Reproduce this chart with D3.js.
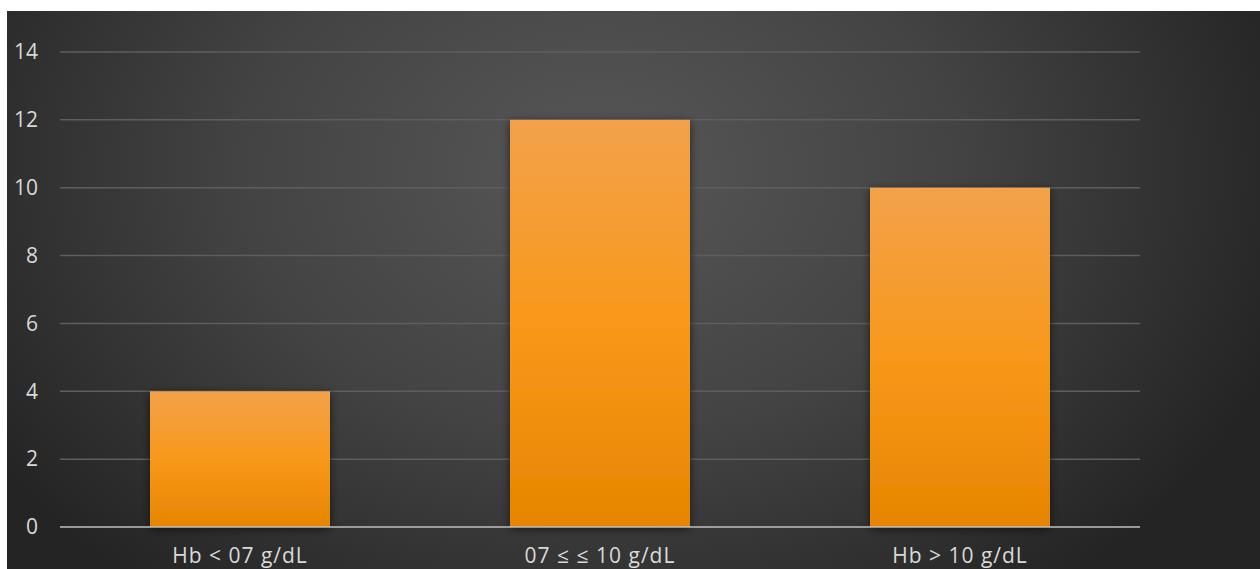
<!DOCTYPE html>
<html>
<head>
<meta charset="utf-8">
<script src="https://cdn.jsdelivr.net/npm/d3@7"></script>
<style>
  html, body { margin: 0; padding: 0; background: #ffffff; }
  svg { display: block; }
</style>
</head>
<body>
<svg id="chart" width="1260" height="569"></svg>
<script>
// Haemoglobin groups and counts
const categories = ["Hb < 07 g/dL", "07 \u2264 \u2264 10 g/dL", "Hb > 10 g/dL"];
const counts = [4, 12, 10];
const yTicks = [0, 2, 4, 6, 8, 10, 12, 14];

const W = 1260, H = 569;
const svg = d3.select("#chart");
const defs = svg.append("defs");

// Dark panel with a soft light spot near the upper middle
const bg = defs.append("radialGradient")
  .attr("id", "bgGrad")
  .attr("gradientUnits", "userSpaceOnUse")
  .attr("cx", 600).attr("cy", 170).attr("r", 720)
  .attr("gradientTransform", "translate(600,170) scale(1,0.75) translate(-600,-170)");
bg.append("stop").attr("offset", "0").attr("stop-color", "#575757");
bg.append("stop").attr("offset", "0.5").attr("stop-color", "#434343");
bg.append("stop").attr("offset", "1").attr("stop-color", "#242424");

// Orange bar fill
const barGrad = defs.append("linearGradient")
  .attr("id", "barGrad").attr("x1", 0).attr("y1", 0).attr("x2", 0).attr("y2", 1);
barGrad.append("stop").attr("offset", "0").attr("stop-color", "#f3a24b");
barGrad.append("stop").attr("offset", "0.5").attr("stop-color", "#f8981a");
barGrad.append("stop").attr("offset", "1").attr("stop-color", "#e68600");

const shadow = defs.append("filter").attr("id", "shadow")
  .attr("x", "-10%").attr("y", "-10%").attr("width", "120%").attr("height", "120%");
shadow.append("feGaussianBlur").attr("in", "SourceAlpha").attr("stdDeviation", 5).attr("result", "b");
shadow.append("feOffset").attr("in", "b").attr("dx", 0).attr("dy", 2).attr("result", "o");
shadow.append("feComponentTransfer").attr("in", "o").attr("result", "s")
  .append("feFuncA").attr("type", "linear").attr("slope", 0.6);
const merge = shadow.append("feMerge");
merge.append("feMergeNode").attr("in", "s");
merge.append("feMergeNode").attr("in", "SourceGraphic");

svg.append("rect")
  .attr("x", 7).attr("y", 11).attr("width", W - 7).attr("height", H - 11)
  .attr("fill", "url(#bgGrad)");

const plot = { left: 60, right: 1140, top: 52, bottom: 527 };

const x = d3.scaleBand()
  .domain(categories)
  .range([plot.left, plot.right])
  .paddingInner(0.5).paddingOuter(0.25);

const y = d3.scaleLinear()
  .domain([0, 14])
  .range([plot.bottom, plot.top]);

const font = "'Open Sans', 'DejaVu Sans', sans-serif";

// Horizontal gridlines
svg.append("g")
  .selectAll("line")
  .data(yTicks.filter(d => d > 0))
  .join("line")
  .attr("x1", plot.left).attr("x2", plot.right)
  .attr("y1", d => y(d)).attr("y2", d => y(d))
  .attr("stroke", "#5e5e5e").attr("stroke-width", 1.5);

// Y axis labels
const yAxis = svg.append("g")
  .attr("transform", `translate(${plot.left},0)`)
  .call(d3.axisLeft(y).tickValues(yTicks).tickSize(0).tickPadding(22));
yAxis.select(".domain").remove();
yAxis.selectAll("text")
  .attr("fill", "#d9d9d9")
  .style("font-family", font)
  .style("font-size", "21px");

// Bars
svg.append("g")
  .selectAll("rect")
  .data(counts)
  .join("rect")
  .attr("x", (d, i) => x(categories[i]))
  .attr("width", x.bandwidth())
  .attr("y", d => y(d))
  .attr("height", d => y(0) - y(d))
  .attr("fill", "url(#barGrad)")
  .attr("filter", "url(#shadow)");

// Baseline
svg.append("line")
  .attr("x1", plot.left).attr("x2", plot.right)
  .attr("y1", y(0)).attr("y2", y(0))
  .attr("stroke", "#bfbfbf").attr("stroke-opacity", 0.75).attr("stroke-width", 2);

// X axis labels
const xAxis = svg.append("g")
  .attr("transform", `translate(0,${y(0)})`)
  .call(d3.axisBottom(x).tickSize(0).tickPadding(21));
xAxis.select(".domain").remove();
xAxis.selectAll("text")
  .attr("fill", "#d9d9d9")
  .style("font-family", font)
  .style("font-size", "21px")
  .style("letter-spacing", "1px");
</script>
</body>
</html>
